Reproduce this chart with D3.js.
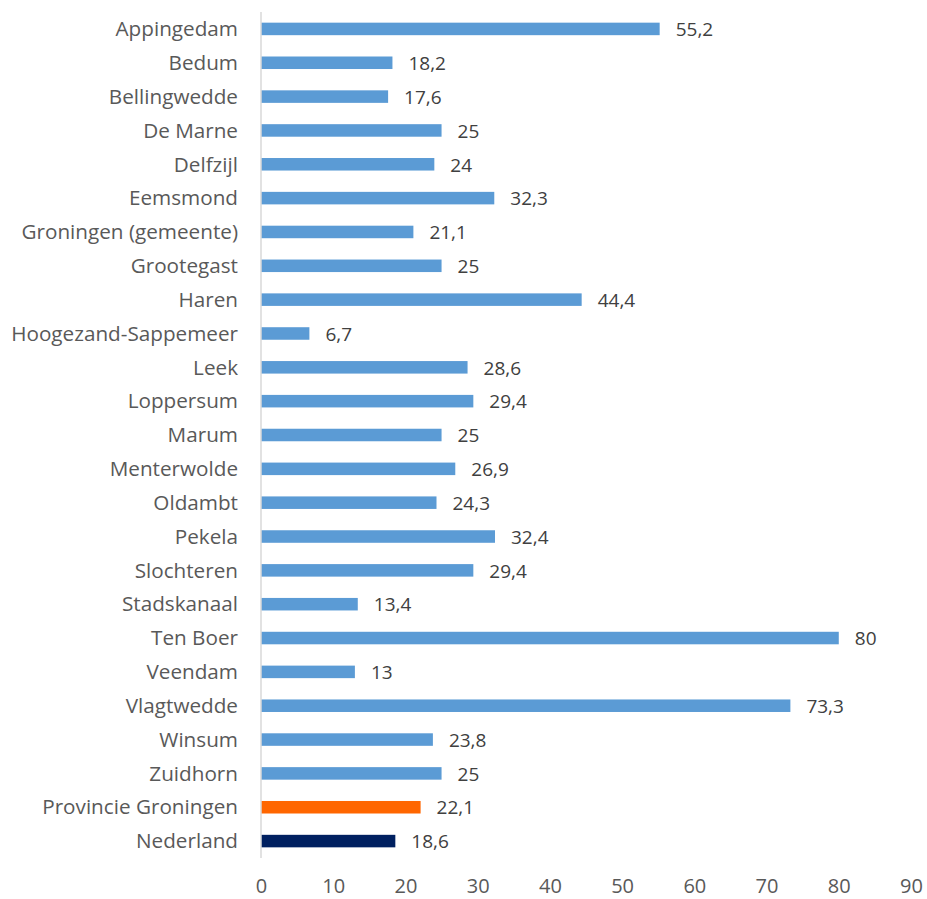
<!DOCTYPE html>
<html>
<head>
<meta charset="utf-8">
<script src="https://cdn.jsdelivr.net/npm/d3@7"></script>
<style>
  html, body { margin: 0; padding: 0; background: #fff; }
  svg { display: block; }
</style>
</head>
<body>
<svg id="chart" width="927" height="899"></svg>
<script>
const categories = ["Appingedam","Bedum","Bellingwedde","De Marne","Delfzijl","Eemsmond","Groningen (gemeente)","Grootegast","Haren","Hoogezand-Sappemeer","Leek","Loppersum","Marum","Menterwolde","Oldambt","Pekela","Slochteren","Stadskanaal","Ten Boer","Veendam","Vlagtwedde","Winsum","Zuidhorn","Provincie Groningen","Nederland"];
const values = [55.2,18.2,17.6,25,24,32.3,21.1,25,44.4,6.7,28.6,29.4,25,26.9,24.3,32.4,29.4,13.4,80,13,73.3,23.8,25,22.1,18.6];
const barColors = ["#5B9BD5","#5B9BD5","#5B9BD5","#5B9BD5","#5B9BD5","#5B9BD5","#5B9BD5","#5B9BD5","#5B9BD5","#5B9BD5","#5B9BD5","#5B9BD5","#5B9BD5","#5B9BD5","#5B9BD5","#5B9BD5","#5B9BD5","#5B9BD5","#5B9BD5","#5B9BD5","#5B9BD5","#5B9BD5","#5B9BD5","#FF6600","#002060"];
const xTicks = [0,10,20,30,40,50,60,70,80,90];

const svg = d3.select("#chart");
const font = "'Open Sans', sans-serif";
const textColor = "#595959";

const x = d3.scaleLinear().domain([0, 90]).range([261, 911]);
const y = d3.scaleBand().domain(categories).range([12, 858]).paddingInner(0.63).paddingOuter(0.315);

const fmt = v => String(v).replace(".", ",");

// bars
svg.append("g").selectAll("rect").data(categories).join("rect")
  .attr("x", x(0))
  .attr("y", d => y(d))
  .attr("width", (d, i) => x(values[i]) - x(0))
  .attr("height", y.bandwidth())
  .attr("fill", (d, i) => barColors[i]);

// value labels
svg.append("g").selectAll("text").data(categories).join("text")
  .attr("x", (d, i) => x(values[i]) + 16)
  .attr("y", d => y(d) + y.bandwidth() / 2)
  .attr("dy", "0.38em")
  .attr("font-family", font)
  .attr("font-size", 19)
  .attr("fill", "#404040")
  .text((d, i) => fmt(values[i]));

// category axis line
svg.append("line")
  .attr("x1", x(0)).attr("x2", x(0))
  .attr("y1", 12).attr("y2", 858)
  .attr("stroke", "#D9D9D9").attr("stroke-width", 1.5);

// category labels
const yAxis = d3.axisLeft(y).tickSize(0).tickPadding(23);
const gy = svg.append("g").attr("transform", `translate(${x(0)},0)`).call(yAxis);
gy.select(".domain").remove();
gy.selectAll("text").attr("font-family", font).attr("font-size", 20.7).attr("fill", textColor).attr("dy", "0.35em");

// x axis labels
const xAxis = d3.axisBottom(x).tickValues(xTicks).tickSize(0).tickPadding(0).tickFormat(d => d);
const gx = svg.append("g").attr("transform", `translate(0,886)`).call(xAxis);
gx.select(".domain").remove();
gx.selectAll("text").attr("font-family", font).attr("font-size", 20).attr("fill", textColor).attr("dy", "0.36em").attr("y", 0);
</script>
</body>
</html>
